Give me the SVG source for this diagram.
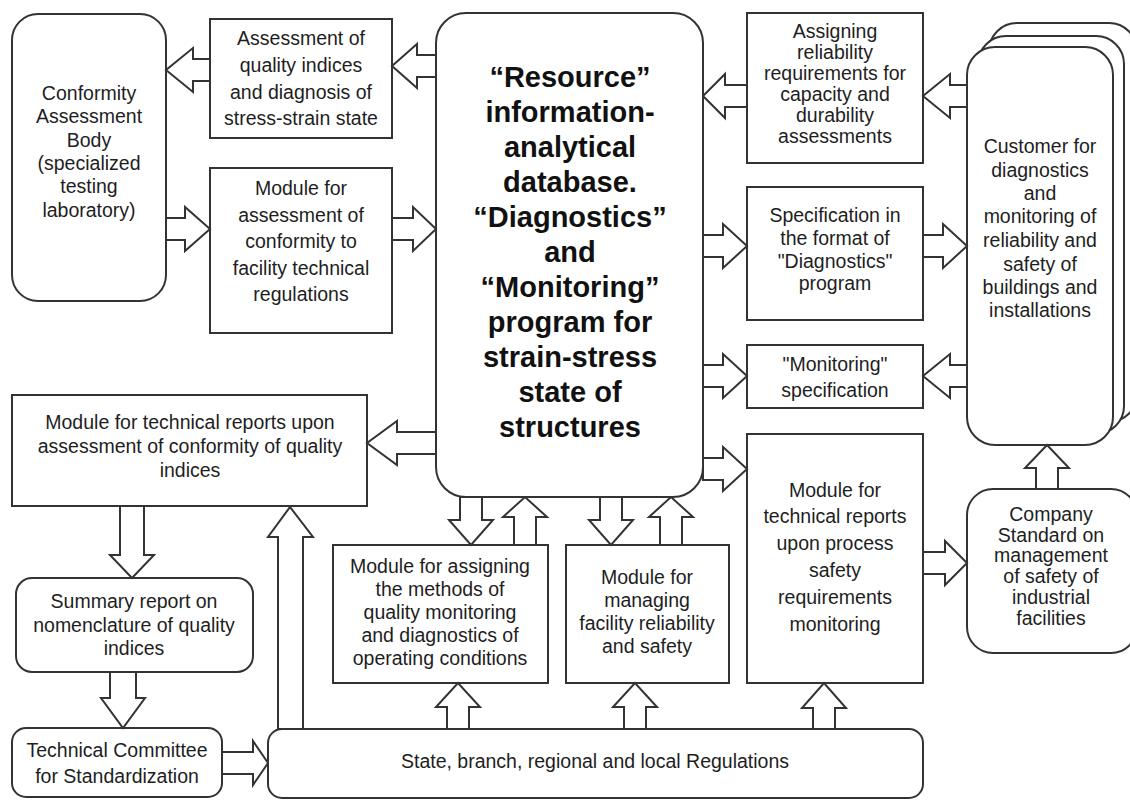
<svg xmlns="http://www.w3.org/2000/svg" width="1130" height="802" viewBox="0 0 1130 802">
<style>
.b{fill:#fff;stroke:#333;stroke-width:2}
.a{fill:#fff;stroke:#333;stroke-width:2;stroke-linejoin:miter}
.t{font-family:"Liberation Sans",Arial,sans-serif;font-size:19.5px;fill:#1e1e1e;text-anchor:middle}
.h{font-family:"Liberation Sans",Arial,sans-serif;font-size:29px;font-weight:bold;fill:#111;text-anchor:middle}
</style>
<rect width="1130" height="802" fill="#fff"/>
<g id="conformity-body">
<rect class="b" x="12" y="14" width="154" height="287" rx="26"/>
<text class="t"><tspan x="89" y="100">Conformity</tspan><tspan x="89" y="123">Assessment</tspan><tspan x="89" y="147">Body</tspan><tspan x="89" y="170">(specialized</tspan><tspan x="89" y="193">testing</tspan><tspan x="89" y="217">laboratory)</tspan></text>
</g>
<g id="assessment-quality">
<rect class="b" x="210" y="19" width="182" height="119"/>
<text class="t"><tspan x="301" y="45">Assessment of</tspan><tspan x="301" y="72">quality indices</tspan><tspan x="301" y="99">and diagnosis of</tspan><tspan x="301" y="125">stress-strain state</tspan></text>
</g>
<g id="module-conformity">
<rect class="b" x="210" y="168" width="182" height="165"/>
<text class="t"><tspan x="301" y="195">Module for</tspan><tspan x="301" y="222">assessment of</tspan><tspan x="301" y="248">conformity to</tspan><tspan x="301" y="275">facility technical</tspan><tspan x="301" y="301">regulations</tspan></text>
</g>
<g id="database">
<rect class="b" x="436" y="13" width="267" height="484" rx="30"/>
<text class="h"><tspan x="570" y="87">“Resource”</tspan><tspan x="570" y="122">information-</tspan><tspan x="570" y="157">analytical</tspan><tspan x="570" y="192">database.</tspan><tspan x="570" y="227">“Diagnostics”</tspan><tspan x="570" y="262">and</tspan><tspan x="570" y="297">“Monitoring”</tspan><tspan x="570" y="332">program for</tspan><tspan x="570" y="367">strain-stress</tspan><tspan x="570" y="402">state of</tspan><tspan x="570" y="437">structures</tspan></text>
</g>
<g id="assigning-reliability">
<rect class="b" x="747" y="13" width="176" height="150"/>
<text class="t"><tspan x="835" y="38">Assigning</tspan><tspan x="835" y="59">reliability</tspan><tspan x="835" y="80">requirements for</tspan><tspan x="835" y="101">capacity and</tspan><tspan x="835" y="122">durability</tspan><tspan x="835" y="143">assessments</tspan></text>
</g>
<g id="specification-diagnostics">
<rect class="b" x="747" y="187" width="176" height="133"/>
<text class="t"><tspan x="835" y="222">Specification in</tspan><tspan x="835" y="245">the format of</tspan><tspan x="835" y="268">"Diagnostics"</tspan><tspan x="835" y="290">program</tspan></text>
</g>
<g id="monitoring-specification">
<rect class="b" x="747" y="345" width="176" height="63"/>
<text class="t"><tspan x="835" y="371">"Monitoring"</tspan><tspan x="835" y="397">specification</tspan></text>
</g>
<g id="customer">
<rect class="b" x="989" y="23" width="148" height="399" rx="28"/>
<rect class="b" x="978" y="36" width="146" height="398" rx="28"/>
<rect class="b" x="967" y="47" width="146" height="398" rx="28"/>
<text class="t"><tspan x="1040" y="153">Customer for</tspan><tspan x="1040" y="177">diagnostics</tspan><tspan x="1040" y="200">and</tspan><tspan x="1040" y="223">monitoring of</tspan><tspan x="1040" y="247">reliability and</tspan><tspan x="1040" y="271">safety of</tspan><tspan x="1040" y="294">buildings and</tspan><tspan x="1040" y="317">installations</tspan></text>
</g>
<g id="module-tech-reports">
<rect class="b" x="12" y="395" width="355" height="111"/>
<text class="t"><tspan x="190" y="429">Module for technical reports upon</tspan><tspan x="190" y="453">assessment of conformity of quality</tspan><tspan x="190" y="477">indices</tspan></text>
</g>
<g id="summary-report">
<rect class="b" x="16" y="578" width="237" height="94" rx="16"/>
<text class="t"><tspan x="134" y="608">Summary report on</tspan><tspan x="134" y="632">nomenclature of quality</tspan><tspan x="134" y="655">indices</tspan></text>
</g>
<g id="technical-committee">
<rect class="b" x="12" y="728" width="210" height="69" rx="14"/>
<text class="t"><tspan x="117" y="757">Technical Committee</tspan><tspan x="117" y="783">for Standardization</tspan></text>
</g>
<g id="regulations">
<rect class="b" x="268" y="729" width="655" height="69" rx="14"/>
<text class="t" x="595" y="768">State, branch, regional and local Regulations</text>
</g>
<g id="module-assigning-methods">
<rect class="b" x="333" y="545" width="215" height="138"/>
<text class="t"><tspan x="440" y="573">Module for assigning</tspan><tspan x="440" y="596">the methods of</tspan><tspan x="440" y="619">quality monitoring</tspan><tspan x="440" y="642">and diagnostics of</tspan><tspan x="440" y="665">operating conditions</tspan></text>
</g>
<g id="module-managing">
<rect class="b" x="566" y="545" width="163" height="138"/>
<text class="t"><tspan x="647" y="584">Module for</tspan><tspan x="647" y="607">managing</tspan><tspan x="647" y="630">facility reliability</tspan><tspan x="647" y="653">and safety</tspan></text>
</g>
<g id="module-process-safety">
<rect class="b" x="747" y="434" width="176" height="249"/>
<text class="t"><tspan x="835" y="497">Module for</tspan><tspan x="835" y="523">technical reports</tspan><tspan x="835" y="550">upon process</tspan><tspan x="835" y="577">safety</tspan><tspan x="835" y="604">requirements</tspan><tspan x="835" y="631">monitoring</tspan></text>
</g>
<g id="company-standard">
<rect class="b" x="967" y="489" width="170" height="164" rx="26"/>
<text class="t"><tspan x="1051" y="521">Company</tspan><tspan x="1051" y="542">Standard on</tspan><tspan x="1051" y="562">management</tspan><tspan x="1051" y="583">of safety of</tspan><tspan x="1051" y="604">industrial</tspan><tspan x="1051" y="625">facilities</tspan></text>
</g>
<g id="connectors">
<!-- left-pointing -->
<polygon class="a" points="436,55 417,55 417,44 392,66 417,88 417,77 436,77"/>
<polygon class="a" points="210,59 193,59 193,48 166,70 193,92 193,81 210,81"/>
<polygon class="a" points="967,85 950,85 950,74 923,96 950,118 950,107 967,107"/>
<polygon class="a" points="747,85 725,85 725,74 703,96 725,118 725,107 747,107"/>
<polygon class="a" points="967,365 950,365 950,354 923,376 950,398 950,387 967,387"/>
<polygon class="a" points="436,432 397,432 397,421 367,443 397,465 397,454 436,454"/>
<!-- right-pointing -->
<polygon class="a" points="166,218 185,218 185,207 210,229 185,251 185,240 166,240"/>
<polygon class="a" points="392,218 413,218 413,207 436,229 413,251 413,240 392,240"/>
<polygon class="a" points="703,235 723,235 723,224 747,246 723,268 723,257 703,257"/>
<polygon class="a" points="923,235 943,235 943,224 967,246 943,268 943,257 923,257"/>
<polygon class="a" points="703,365 723,365 723,354 747,376 723,398 723,387 703,387"/>
<polygon class="a" points="703,458 723,458 723,447 747,469 723,491 723,480 703,480"/>
<polygon class="a" points="923,552 945,552 945,541 967,563 945,585 945,574 923,574"/>
<polygon class="a" points="222,752 253,752 253,741 268,763 253,785 253,774 222,774"/>
<!-- down -->
<polygon class="a" points="120,506 120,555 110,555 132,578 154,555 144,555 144,506"/>
<polygon class="a" points="110,672 110,698 101,698 123,728 145,698 136,698 136,672"/>
<polygon class="a" points="460,497 460,520 449,520 471,545 493,520 482,520 482,497"/>
<polygon class="a" points="600,497 600,520 589,520 611,545 633,520 622,520 622,497"/>
<!-- up -->
<polygon class="a" points="278,729 278,537 268,537 290,507 313,537 303,537 303,729"/>
<polygon class="a" points="514,545 514,517 503,517 525,497 547,517 536,517 536,545"/>
<polygon class="a" points="660,545 660,517 649,517 671,497 693,517 682,517 682,545"/>
<polygon class="a" points="447,729 447,707 436,707 458,683 480,707 469,707 469,729"/>
<polygon class="a" points="624,729 624,707 613,707 635,683 657,707 646,707 646,729"/>
<polygon class="a" points="813,729 813,708 802,708 824,683 846,708 835,708 835,729"/>
<polygon class="a" points="1036,489 1036,468 1025,468 1047,445 1069,468 1058,468 1058,489"/>
</g>
</svg>
